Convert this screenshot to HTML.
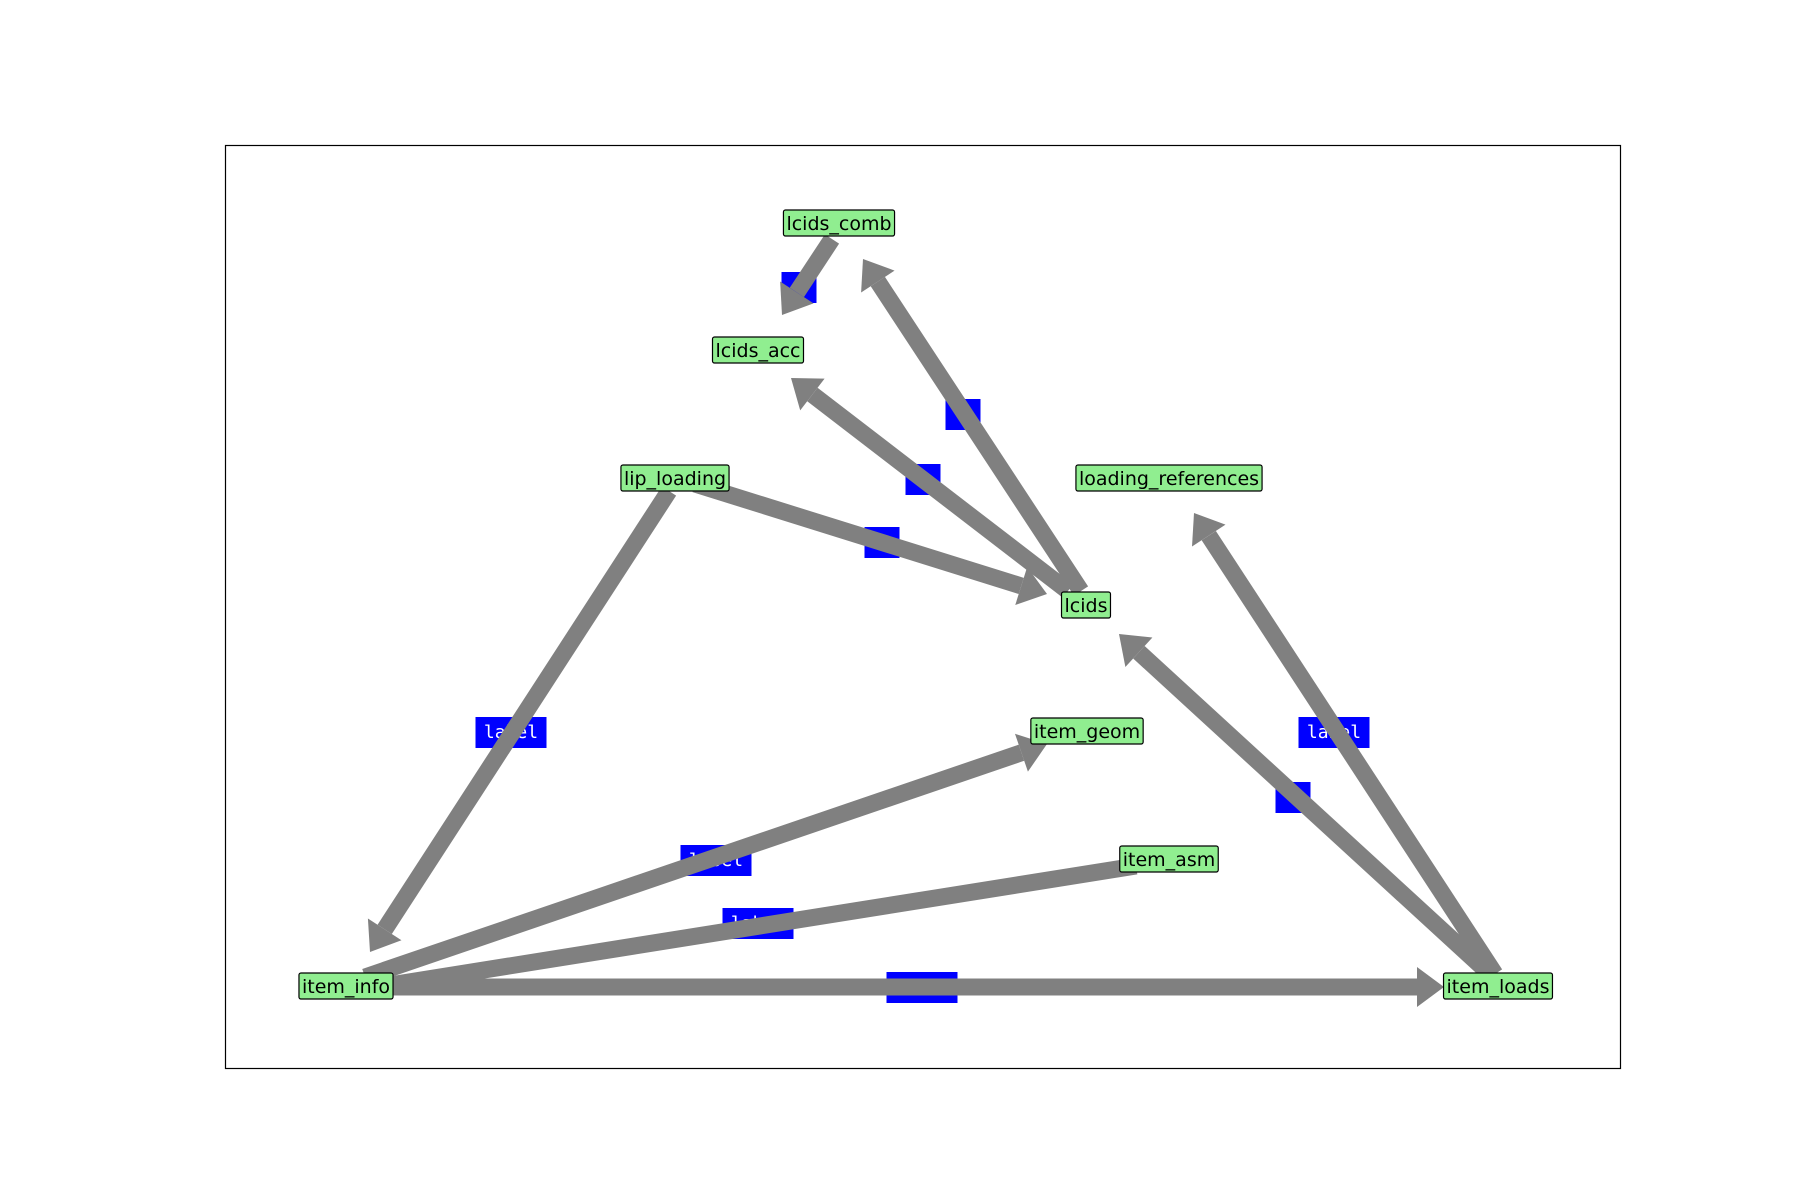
<!DOCTYPE html>
<html><head><meta charset="utf-8"><style>
html,body{margin:0;padding:0;background:#fff;}
svg{display:block;}
</style></head><body>
<svg id="s" width="1800" height="1200" xmlns="http://www.w3.org/2000/svg">
<rect x="225.5" y="145.5" width="1395" height="923" fill="none" stroke="#000" stroke-width="1.2"/>
<g id="labels" font-family="'DejaVu Sans Mono','Liberation Mono',monospace" font-size="18" fill="#fff"></g>
<g id="edges" fill="#808080" stroke="none"></g>
<g id="nodes" font-family="'DejaVu Sans','Liberation Sans',sans-serif" font-size="19"></g>
</svg>
<script>
var NS="http://www.w3.org/2000/svg";
function el(t,a,p,txt){var e=document.createElementNS(NS,t);for(var k in a)e.setAttribute(k,a[k]);if(txt)e.textContent=txt;p.appendChild(e);return e;}
var L=document.getElementById('labels'),E=document.getElementById('edges'),N=document.getElementById('nodes');
[[799,287,35],[963,414,35],[923,479,35],[882,542,35],[1293,797,35],
 [511,732,71],[716,860,71],[758,923,71],[922,987,71],[1334,732,71]].forEach(function(b){
 el('rect',{x:b[0]-b[2]/2,y:b[1]-15,width:b[2],height:31,fill:'#0000ff'},L);
 if(b[2]>40) el('text',{x:b[0],y:b[1]+6,'text-anchor':'middle'},L,'label');
});
var W=17,HL=27,HW=20;
[[832,239,782,315,1],[1081,591,863,259,1],[1068,591,791,378,1],[695,484,1047,594,1],
 [669,491,370,952,1],[365,977,1047,744,1],[1136,866,390,985,0],[390,987,1444,987,1],
 [1492,976,1119,634,1],[1495,974,1194,513,1]].forEach(function(e){
 var dx=e[2]-e[0],dy=e[3]-e[1],len=Math.hypot(dx,dy),ux=dx/len,uy=dy/len,px=-uy,py=ux;
 var bx=e[2]-ux*(e[4]?HL:0),by=e[3]-uy*(e[4]?HL:0);
 var pts=[[e[0]+px*W/2,e[1]+py*W/2],[bx+px*W/2,by+py*W/2],[bx-px*W/2,by-py*W/2],[e[0]-px*W/2,e[1]-py*W/2]];
 el('polygon',{points:pts.map(function(p){return p.join(',')}).join(' ')},E);
 if(e[4]){
  var h=[[e[2],e[3]],[bx+px*HW,by+py*HW],[bx-px*HW,by-py*HW]];
  el('polygon',{points:h.map(function(p){return p.join(',')}).join(' ')},E);
 }
});
[['lcids_comb',839,223],['lcids_acc',758,350],['lip_loading',675,478],['loading_references',1169,478],
 ['lcids',1086,605],['item_geom',1087,731],['item_asm',1169,859],['item_info',346,986],['item_loads',1498,986]].forEach(function(n){
 var t=el('text',{x:n[1],y:n[2]+7,'text-anchor':'middle',fill:'#000'},N,n[0]);
 var bb=t.getBBox();
 var r=el('rect',{x:bb.x-3,y:n[2]-13,width:bb.width+6,height:26,rx:2,fill:'#90ee90',stroke:'#000','stroke-width':1.2},N);
 N.insertBefore(r,t);
});
</script>
</body></html>
